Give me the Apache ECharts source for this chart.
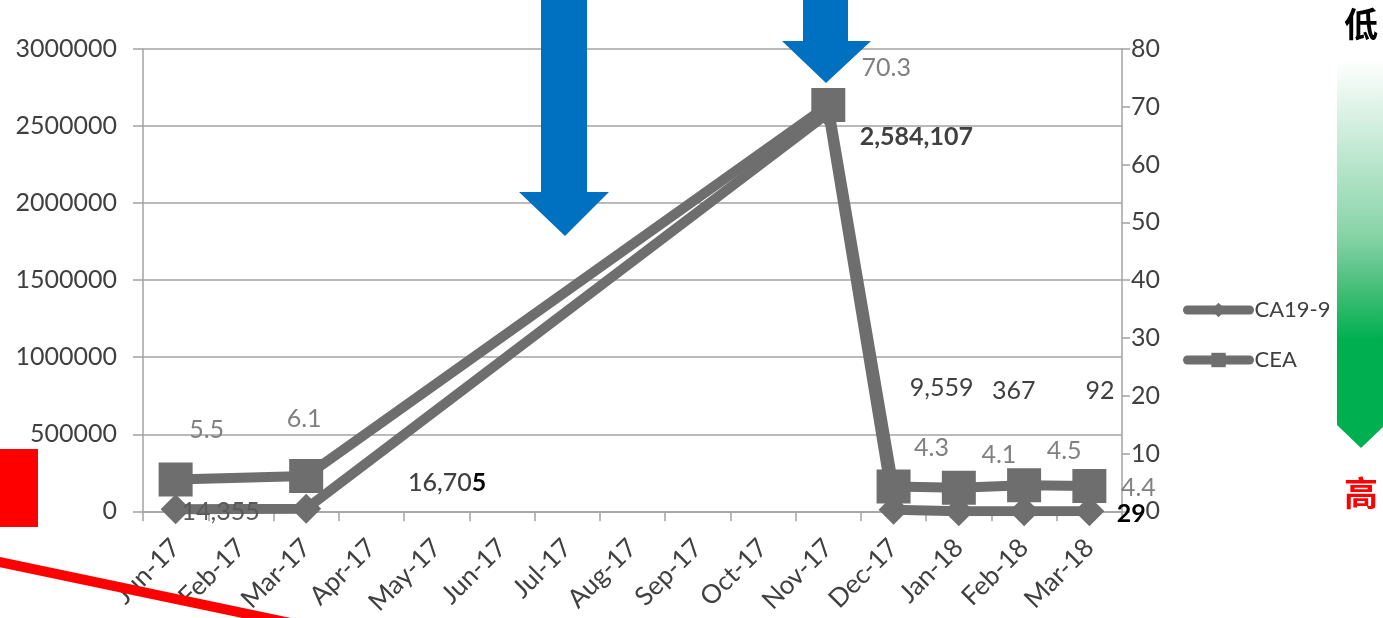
<!DOCTYPE html>
<html>
<head>
<meta charset="utf-8">
<script src="https://cdn.jsdelivr.net/npm/echarts@6/dist/echarts.min.js"></script>
<style>
html,body{margin:0;padding:0;background:#fff;}
#chart{width:1383px;height:618px;}
</style>
</head>
<body>
<div id="chart"></div>
<script>
// ---- data ----
const categories = ['Jun-17','Feb-17','Mar-17','Apr-17','May-17','Jun-17','Jul-17','Aug-17','Sep-17','Oct-17','Nov-17','Dec-17','Jan-18','Feb-18','Mar-18'];
const ca199 = [14355, null, 16705, null, null, null, null, null, null, null, 2584107, 9559, 367, 92, 29];
const cea   = [5.5,   null, 6.1,   null, null, null, null, null, null, null, 70.3,    4.3,  4.1, 4.5, 4.4];
const seriesNames = ['CA19-9', 'CEA'];
const leftAxis  = {min: 0, max: 3000000, interval: 500000};
const rightAxis = {min: 0, max: 80, interval: 10};
const topLabel = '低';
const bottomLabel = '高';

// ---- styling / label placement (pixels) ----
const FONT = 'Lato, "Open Sans", sans-serif';
const CJK = '"Noto Sans CJK SC", sans-serif';
const LINE = '#6e6e6e';
const GRID = '#a3a3a3';
const TXT = '#404040';
const caOffsets = {0:[45,3], 2:[141,-26], 10:[88,24], 11:[48,-122], 12:[55,-120], 13:[76,-120], 14:[42,3]};
const ceaOffsets = {0:[31,-50], 2:[-2,-57], 10:[58,-37], 11:[38,-39], 12:[40,-33], 13:[40,-34], 14:[49,2]};
const caStyles = {
  0: {color:'#595959'},
  10: {color:TXT, fontWeight:'bold'},
  14: {color:'#000', fontWeight:'bold'}
};

function buildData(values, offsets, styles){
  return values.map((v,i)=>{
    if(v===null) return null;
    const lab = Object.assign({offset: offsets[i] || [0,0]}, (styles && styles[i]) || {});
    return {value: v, label: lab};
  });
}

const chart = echarts.init(document.getElementById('chart'), null, {renderer:'canvas'});
const option = {
  animation: false,
  backgroundColor: '#fff',
  textStyle: {fontFamily: FONT},
  grid: {left: 143, right: 261, top: 49, bottom: 105, containLabel: false},
  legend: {
    orient: 'vertical',
    left: 1183, top: 299, padding: 0,
    itemWidth: 62, itemHeight: 18, itemGap: 28,
    lineStyle: {width: 9, cap: 'round'},
    textStyle: {fontSize: 22, color: TXT, fontFamily: FONT},
    data: seriesNames
  },
  xAxis: {
    type: 'category', data: categories, boundaryGap: true,
    axisLine: {show: true, lineStyle: {color: GRID, width: 1.5}},
    axisTick: {show: true, length: 10, interval: 0, lineStyle: {color: GRID, width: 1.5}},
    axisLabel: {rotate: 45, interval: 0, margin: 32, fontSize: 26, color: TXT, fontFamily: FONT},
    splitLine: {show: false}
  },
  yAxis: [
    {
      type: 'value', min: leftAxis.min, max: leftAxis.max, interval: leftAxis.interval,
      axisLine: {show: true, lineStyle: {color: GRID, width: 1.5}},
      axisTick: {show: true, length: 10, lineStyle: {color: GRID, width: 1.5}},
      axisLabel: {margin: 26, fontSize: 25, color: TXT, fontFamily: FONT, formatter: v => String(v)},
      splitLine: {show: true, lineStyle: {color: GRID, width: 1.5}}
    },
    {
      type: 'value', min: rightAxis.min, max: rightAxis.max, interval: rightAxis.interval, position: 'right',
      axisLine: {show: true, lineStyle: {color: GRID, width: 1.5}},
      axisTick: {show: true, length: 8, lineStyle: {color: GRID, width: 1.5}},
      axisLabel: {margin: 38, align: 'right', fontSize: 25, color: TXT, fontFamily: FONT},
      splitLine: {show: false}
    }
  ],
  series: [
    {
      name: seriesNames[0], type: 'line', yAxisIndex: 0, connectNulls: true,
      symbol: 'diamond', symbolSize: 30,
      lineStyle: {color: LINE, width: 10},
      itemStyle: {color: LINE},
      label: {
        show: true, position: 'inside', fontSize: 25, color: TXT, fontFamily: FONT,
        formatter: p => p.dataIndex === 2 ? '{a|16,70}{b|5}' : Number(p.value).toLocaleString('en-US'),
        rich: {a: {fontSize: 25, color: TXT, fontWeight: 500, fontFamily: FONT}, b: {fontSize: 25, color: '#000', fontWeight: 'bold', fontFamily: FONT}}
      },
      data: buildData(ca199, caOffsets, caStyles),
      z: 3
    },
    {
      name: seriesNames[1], type: 'line', yAxisIndex: 1, connectNulls: true,
      symbol: 'rect', symbolSize: 34,
      lineStyle: {color: LINE, width: 10},
      itemStyle: {color: LINE},
      label: {show: true, position: 'inside', fontSize: 25, color: '#808080', fontFamily: FONT},
      data: buildData(cea, ceaOffsets, null),
      z: 4
    }
  ],
  graphic: [
    {type: 'polygon', z: 100, shape: {points: [[541,0],[587,0],[587,192],[609,192],[565,236],[519,192],[541,192]]}, style: {fill: '#0070c0'}},
    {type: 'polygon', z: 100, shape: {points: [[803,0],[848,0],[848,41],[871,41],[826,83],[782,41],[803,41]]}, style: {fill: '#0070c0'}},
    {type: 'polygon', z: 100, shape: {points: [[1337,60],[1385,60],[1385,425],[1361,448],[1337,425]]},
      style: {fill: {type: 'linear', x: 0, y: 0, x2: 0, y2: 1, colorStops: [
        {offset: 0, color: '#ffffff'}, {offset: 0.45, color: '#88d4a8'}, {offset: 0.58, color: '#4bbf7c'},
        {offset: 0.72, color: '#00b050'}, {offset: 1, color: '#00b050'}]}}},
    {type: 'text', z: 100, x: 1361, y: 24, style: {text: topLabel, fill: '#000', font: 'bold 34px ' + CJK, textAlign: 'center', textVerticalAlign: 'middle'}},
    {type: 'text', z: 100, x: 1361, y: 493, style: {text: bottomLabel, fill: '#ff0000', font: 'bold 34px ' + CJK, textAlign: 'center', textVerticalAlign: 'middle'}},
    {type: 'rect', z: 100, shape: {x: 0, y: 449, width: 38, height: 78}, style: {fill: '#ff0000'}},
    {type: 'line', z: 100, shape: {x1: -5, y1: 561, x2: 300, y2: 625}, style: {stroke: '#ff0000', lineWidth: 10}}
  ]
};
chart.setOption(option);
</script>
</body>
</html>
